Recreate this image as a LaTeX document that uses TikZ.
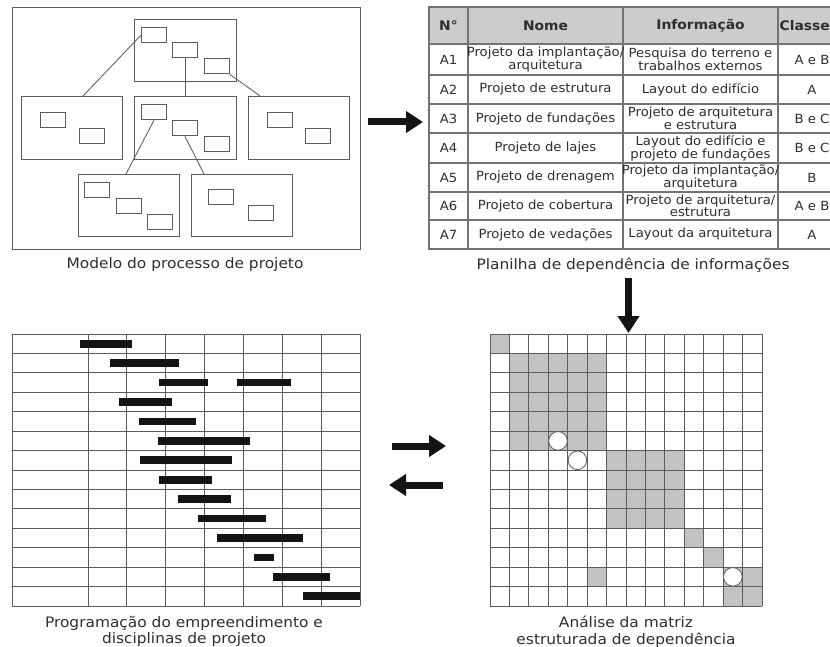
\documentclass[tikz,border=0pt]{standalone}
\usepackage{fontspec}
\setmainfont{DejaVu Sans}
\newfontfamily\tabfont[FakeStretch=1.05]{DejaVu Sans}
\newfontfamily\capfont[FakeStretch=1.07]{DejaVu Sans}
\usetikzlibrary{arrows.meta,calc}

\definecolor{boxline}{gray}{0.36}
\definecolor{tabline}{gray}{0.45}
\definecolor{tabhead}{gray}{0.80}
\definecolor{txt}{gray}{0.18}
\definecolor{cellfill}{gray}{0.76}
\definecolor{gridline}{gray}{0.36}
\definecolor{barcol}{gray}{0.08}

\begin{document}
\begin{tikzpicture}[x=1pt,y=-1pt,
  boxframe/.style={draw=boxline,line width=0.85pt,inner sep=0pt,anchor=north west},
  bigbox/.style={boxframe,minimum width=101pt,minimum height=62pt},
  smallbox/.style={boxframe,minimum width=25pt,minimum height=15.5pt},
  link/.style={draw=boxline,line width=0.85pt},
  cell/.style={text=txt,font=\tabfont\fontsize{12.6}{11.2}\selectfont,align=center,inner sep=0pt},
  headcell/.style={text=txt,font=\tabfont\fontsize{13.2}{12}\selectfont\bfseries,inner sep=0pt},
  captext/.style={text=txt,font=\capfont\fontsize{14.4}{16.5}\selectfont,align=center,inner sep=0pt},
  bigarrow/.style={line width=7pt,barcol,-{Triangle[width=21pt,length=17pt]}},
  ganttline/.style={draw=gridline,line width=0.9pt},
  ganttbar/.style={fill=barcol},
  mline/.style={draw=gridline,line width=0.8pt},
  shadecell/.style={fill=cellfill},
]
\useasboundingbox[fill=white] (0,0) rectangle (830,647);

% ---------- process model ----------
\node[boxframe,minimum width=348pt,minimum height=242pt] (outer) at (12,7) {};
\node[bigbox,minimum width=102pt] (top) at (134,19) {};
\node[bigbox,minimum height=63pt] (ml) at (21,96) {};
\node[bigbox,minimum width=102pt,minimum height=63pt] (mc) at (134,96) {};
\node[bigbox,minimum height=63pt] (mr) at (248,96) {};
\node[bigbox] (bl) at (78,174) {};
\node[bigbox] (br) at (191,174) {};

\node[smallbox] (t1) at (141,27) {};
\node[smallbox] (t2) at (172,42) {};
\node[smallbox] (t3) at (204,58) {};
\node[smallbox] (ml1) at (40,112) {};
\node[smallbox] (ml2) at (79,128) {};
\node[smallbox] (m1) at (141,104) {};
\node[smallbox] (m2) at (172,120) {};
\node[smallbox] (m3) at (204,136) {};
\node[smallbox] (mr1) at (267,112) {};
\node[smallbox] (mr2) at (305,128) {};
\node[smallbox] (bl1) at (84,182) {};
\node[smallbox] (bl2) at (116,198) {};
\node[smallbox] (bl3) at (147,214) {};
\node[smallbox] (br1) at (208,189) {};
\node[smallbox] (br2) at (248,205) {};

\draw[link] (t1.west) -- ($(ml.north west)+(62,0)$);
\draw[link] (t2.south) -- (t2.south |- mc.north);
\draw[link] (t3.south east) -- ($(mr.north west)+(12,0)$);
\draw[link] (m1.south) -- ($(bl.north west)+(48,0)$);
\draw[link] (m2.south) -- ($(br.north west)+(13,0)$);

\node[captext] (cap1) at (185,265) {Modelo do processo de projeto};

% ---------- dependency table ----------
\begin{scope}
  \clip (420,0) rectangle (830,260);
  \fill[tabhead] (429,7) rectangle (846,44);
  \draw[tabline,line width=1.3pt] (429,7) rectangle (846,249);
  \foreach \yy in {44,75,104,133,163,192,220}
    \draw[tabline,line width=1.1pt] (429,\yy) -- (846,\yy);
  \foreach \xx in {468,623,778}
    \draw[tabline,line width=1.1pt] (\xx,7) -- (\xx,249);

  \node[headcell] (h0) at (448.5,25.5) {N°};
  \node[headcell] (h1) at (545.5,25.5) {Nome};
  \node[headcell] (h2) at (700.5,25.5) {Informação};
  \node[headcell,anchor=west] (h3) at (779.5,25.5) {Classe};

  \node[cell] (a1) at (448.5,59.5) {A1};
  \node[cell] (n1) at (545.5,59.5) {Projeto da implantação/\\arquitetura};
  \node[cell] (i1) at (700.5,59.5) {Pesquisa do terreno e\\trabalhos externos};
  \node[cell] (c1) at (812,59.5) {A e B};

  \node[cell] (a2) at (448.5,89.5) {A2};
  \node[cell] (n2) at (545.5,89.5) {Projeto de estrutura};
  \node[cell] (i2) at (700.5,89.5) {Layout do edifício};
  \node[cell] (c2) at (812,89.5) {A};

  \node[cell] (a3) at (448.5,118.5) {A3};
  \node[cell] (n3) at (545.5,118.5) {Projeto de fundações};
  \node[cell] (i3) at (700.5,118.5) {Projeto de arquitetura\\e estrutura};
  \node[cell] (c3) at (812,118.5) {B e C};

  \node[cell] (a4) at (448.5,148) {A4};
  \node[cell] (n4) at (545.5,148) {Projeto de lajes};
  \node[cell] (i4) at (700.5,148) {Layout do edifício e\\projeto de fundações};
  \node[cell] (c4) at (812,148) {B e C};

  \node[cell] (a5) at (448.5,177.5) {A5};
  \node[cell] (n5) at (545.5,177.5) {Projeto de drenagem};
  \node[cell] (i5) at (700.5,177.5) {Projeto da implantação/\\arquitetura};
  \node[cell] (c5) at (812,177.5) {B};

  \node[cell] (a6) at (448.5,206) {A6};
  \node[cell] (n6) at (545.5,206) {Projeto de cobertura};
  \node[cell] (i6) at (700.5,206) {Projeto de arquitetura/\\estrutura};
  \node[cell] (c6) at (812,206) {A e B};

  \node[cell] (a7) at (448.5,234.5) {A7};
  \node[cell] (n7) at (545.5,234.5) {Projeto de vedações};
  \node[cell] (i7) at (700.5,234.5) {Layout da arquitetura};
  \node[cell] (c7) at (812,234.5) {A};
\end{scope}

\node[captext] (cap2) at (633,265) {Planilha de dependência de informações};

% ---------- schedule (Gantt) ----------
\foreach \i in {0,...,14}
  \draw[ganttline] (12,{334+\i*272/14}) -- (360,{334+\i*272/14});
\draw[ganttline] (12,334) -- (12,606);
\foreach \k in {0,...,7}
  \draw[ganttline] ({88+\k*272/7},334) -- ({88+\k*272/7},606);
\foreach \r/\a/\b in {0/80/132, 1/110/179, 2/159/208, 2/237/291, 3/119/172,
    4/139/196, 5/158/250, 6/140/232, 7/159/212, 8/178/231, 9/198/266,
    10/217/303, 11/254/274, 12/273/330, 13/303/360}
  \fill[ganttbar] (\a,{334+(\r+0.5)*272/14-3.8}) rectangle (\b,{334+(\r+0.5)*272/14+3.8});

\node[captext] (cap3) at (184,631.5) {Programação do empreendimento e\\disciplinas de projeto};

% ---------- dependency structure matrix ----------
\def\cs{19.4286}
\begin{scope}[shift={(490,334)}]
  \fill[shadecell] (0,0) rectangle (\cs,\cs);
  \fill[shadecell] (\cs,\cs) rectangle ({6*\cs},{6*\cs});
  \fill[shadecell] ({6*\cs},{6*\cs}) rectangle ({10*\cs},{10*\cs});
  \fill[shadecell] ({10*\cs},{10*\cs}) rectangle ({11*\cs},{11*\cs});
  \fill[shadecell] ({11*\cs},{11*\cs}) rectangle ({12*\cs},{12*\cs});
  \fill[shadecell] ({5*\cs},{12*\cs}) rectangle ({6*\cs},{13*\cs});
  \fill[shadecell] ({12*\cs},{12*\cs}) rectangle ({14*\cs},{14*\cs});
  \foreach \i in {0,...,14} {
    \draw[mline] ({\i*\cs},0) -- ({\i*\cs},{14*\cs});
    \draw[mline] (0,{\i*\cs}) -- ({14*\cs},{\i*\cs});
  }
  \foreach \r/\c in {5/3, 6/4, 12/12}
    \draw[draw=gridline,line width=0.8pt,fill=white] ({(\c+0.5)*\cs},{(\r+0.5)*\cs}) circle[radius=9.3pt];
\end{scope}

\node[captext] (cap4) at (626,631.5) {Análise da matriz\\estruturada de dependência};

% ---------- flow arrows ----------
\coordinate (f1s) at (368,122);  \coordinate (f1e) at (423,122);
\coordinate (f2s) at (628.5,278); \coordinate (f2e) at (628.5,333);
\coordinate (f3s) at (392,446);  \coordinate (f3e) at (446,446);
\coordinate (f4s) at (443,485);  \coordinate (f4e) at (389,485);
\draw[bigarrow] (f1s) -- (f1e);
\draw[bigarrow] (f2s) -- (f2e);
\draw[bigarrow] (f3s) -- (f3e);
\draw[bigarrow] (f4s) -- (f4e);
\end{tikzpicture}
\end{document}
